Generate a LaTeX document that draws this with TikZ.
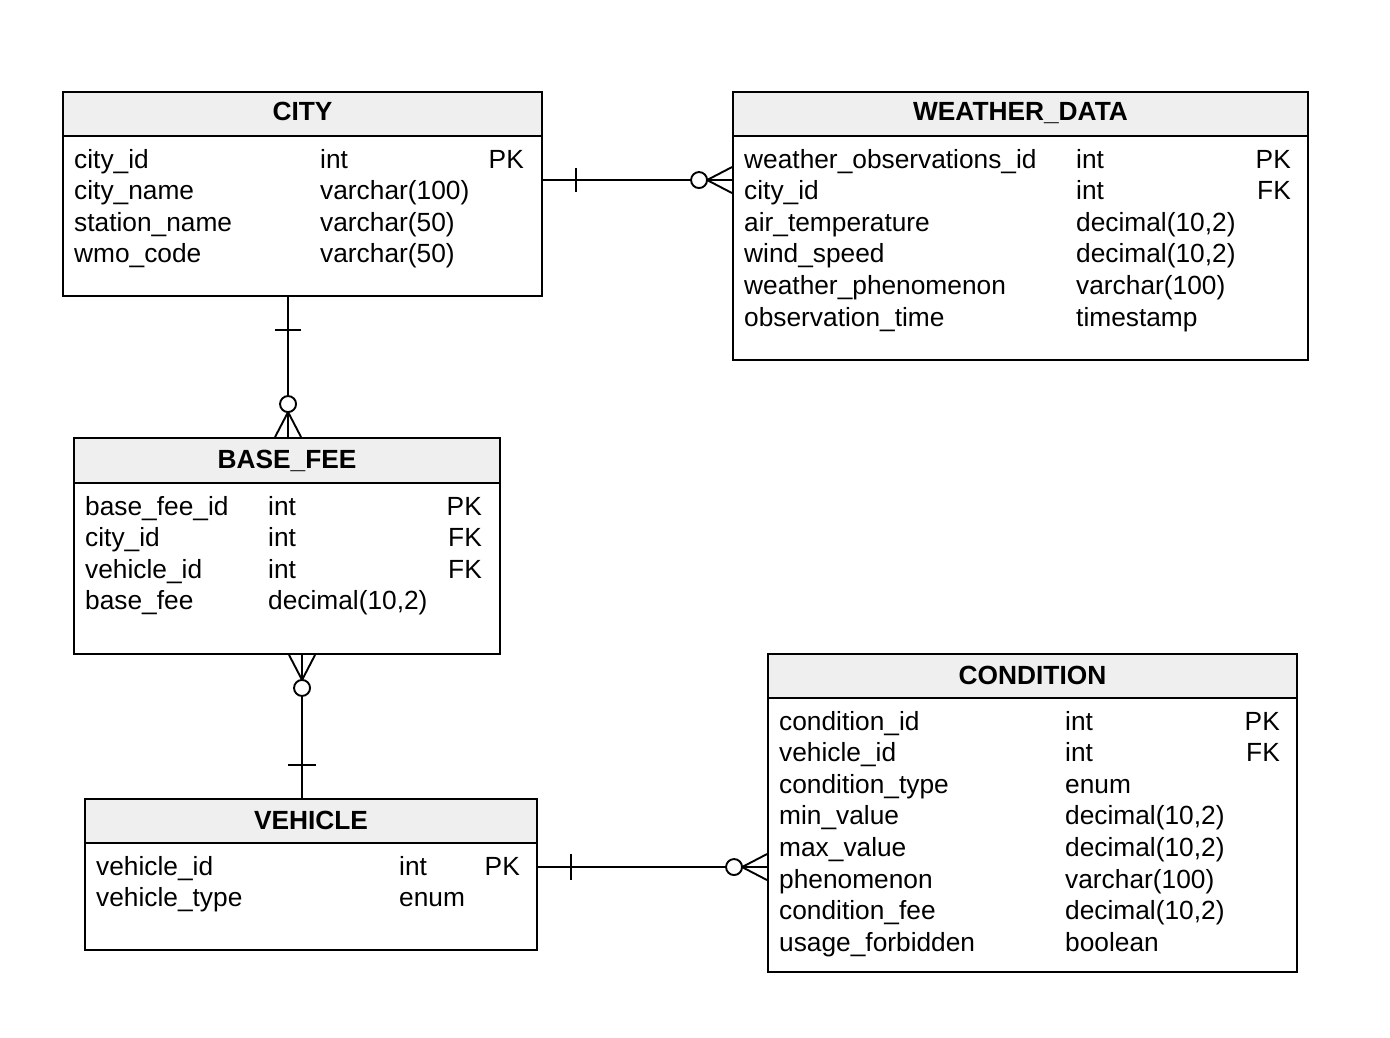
\documentclass[tikz,border=0pt]{standalone}
\usepackage{fontspec}
\setmainfont{Liberation Sans}
\usetikzlibrary{fit,calc}
\definecolor{hdrgray}{HTML}{EFEFEF}
\tikzset{
  tblbox/.style={draw, line width=1.9pt, inner sep=0pt, fill=white},
  hdrbox/.style={draw, line width=1.9pt, inner sep=0pt, fill=hdrgray},
  ttl/.style={anchor=base, inner sep=0pt, font=\fontsize{26.3}{30}\selectfont\bfseries},
  fld/.style={anchor=base west, inner sep=0pt, font=\fontsize{26.3}{30}\selectfont},
  keyc/.style={anchor=base east, inner sep=0pt, font=\fontsize{26.3}{30}\selectfont},
  rel/.style={line width=1.9pt},
}
\begin{document}
\begin{tikzpicture}[x=1pt,y=-1pt]
\useasboundingbox[fill=white] (0,0) rectangle (1390,1038);

% ---------- CITY ----------
\node[tblbox, fit={(63,92)(542,296)}] (city) {};
\node[hdrbox, fit={(63,92)(542,136)}] (cityh) {};
\node[ttl] (cityt) at (302.5,121) {CITY};
\node[fld] (c1n) at (74,168) {city\_id};
\node[fld] (c1t) at (320,168) {int};
\node[keyc] (c1k) at (524,168) {PK};
\node[fld] (c2n) at (74,199.6) {city\_name};
\node[fld] (c2t) at (320,199.6) {varchar(100)};
\node[fld] (c3n) at (74,231.2) {station\_name};
\node[fld] (c3t) at (320,231.2) {varchar(50)};
\node[fld] (c4n) at (74,262.8) {wmo\_code};
\node[fld] (c4t) at (320,262.8) {varchar(50)};

% ---------- WEATHER_DATA ----------
\node[tblbox, fit={(733,92)(1308,360)}] (wd) {};
\node[hdrbox, fit={(733,92)(1308,136)}] (wdh) {};
\node[ttl] (wdt) at (1020.5,121) {WEATHER\_DATA};
\node[fld] (w1n) at (744,168) {weather\_observations\_id};
\node[fld] (w1t) at (1076,168) {int};
\node[keyc] (w1k) at (1291,168) {PK};
\node[fld] (w2n) at (744,199.6) {city\_id};
\node[fld] (w2t) at (1076,199.6) {int};
\node[keyc] (w2k) at (1291,199.6) {FK};
\node[fld] (w3n) at (744,231.2) {air\_temperature};
\node[fld] (w3t) at (1076,231.2) {decimal(10,2)};
\node[fld] (w4n) at (744,262.8) {wind\_speed};
\node[fld] (w4t) at (1076,262.8) {decimal(10,2)};
\node[fld] (w5n) at (744,294.4) {weather\_phenomenon};
\node[fld] (w5t) at (1076,294.4) {varchar(100)};
\node[fld] (w6n) at (744,326) {observation\_time};
\node[fld] (w6t) at (1076,326) {timestamp};

% ---------- BASE_FEE ----------
\node[tblbox, fit={(74,438)(500,654)}] (bf) {};
\node[hdrbox, fit={(74,438)(500,483)}] (bfh) {};
\node[ttl] (bft) at (287,468) {BASE\_FEE};
\node[fld] (b1n) at (85,515) {base\_fee\_id};
\node[fld] (b1t) at (268,515) {int};
\node[keyc] (b1k) at (482,515) {PK};
\node[fld] (b2n) at (85,546.6) {city\_id};
\node[fld] (b2t) at (268,546.6) {int};
\node[keyc] (b2k) at (482,546.6) {FK};
\node[fld] (b3n) at (85,578.2) {vehicle\_id};
\node[fld] (b3t) at (268,578.2) {int};
\node[keyc] (b3k) at (482,578.2) {FK};
\node[fld] (b4n) at (85,609.8) {base\_fee};
\node[fld] (b4t) at (268,609.8) {decimal(10,2)};

% ---------- VEHICLE ----------
\node[tblbox, fit={(85,799)(537,950)}] (veh) {};
\node[hdrbox, fit={(85,799)(537,843)}] (vehh) {};
\node[ttl] (veht) at (311,829) {VEHICLE};
\node[fld] (v1n) at (96,875) {vehicle\_id};
\node[fld] (v1t) at (399,875) {int};
\node[keyc] (v1k) at (520,875) {PK};
\node[fld] (v2n) at (96,906.6) {vehicle\_type};
\node[fld] (v2t) at (399,906.6) {enum};

% ---------- CONDITION ----------
\node[tblbox, fit={(768,654)(1297,972)}] (cond) {};
\node[hdrbox, fit={(768,654)(1297,698)}] (condh) {};
\node[ttl] (condt) at (1032.5,684) {CONDITION};
\node[fld] (k1n) at (779,730) {condition\_id};
\node[fld] (k1t) at (1065,730) {int};
\node[keyc] (k1k) at (1280,730) {PK};
\node[fld] (k2n) at (779,761.6) {vehicle\_id};
\node[fld] (k2t) at (1065,761.6) {int};
\node[keyc] (k2k) at (1280,761.6) {FK};
\node[fld] (k3n) at (779,793.2) {condition\_type};
\node[fld] (k3t) at (1065,793.2) {enum};
\node[fld] (k4n) at (779,824.8) {min\_value};
\node[fld] (k4t) at (1065,824.8) {decimal(10,2)};
\node[fld] (k5n) at (779,856.4) {max\_value};
\node[fld] (k5t) at (1065,856.4) {decimal(10,2)};
\node[fld] (k6n) at (779,888) {phenomenon};
\node[fld] (k6t) at (1065,888) {varchar(100)};
\node[fld] (k7n) at (779,919.6) {condition\_fee};
\node[fld] (k7t) at (1065,919.6) {decimal(10,2)};
\node[fld] (k8n) at (779,951.2) {usage\_forbidden};
\node[fld] (k8t) at (1065,951.2) {boolean};

% ---------- relationships ----------
% CITY -- WEATHER_DATA (one to many), horizontal
\coordinate (a1) at ($(city.north east)+(0,89)$);
\coordinate (b1) at (a1 -| wd.west);
\draw[rel] (a1) -- (b1);
\draw[rel] ($(a1)+(33,-12)$) -- ($(a1)+(33,12)$);
\draw[rel] ($(b1)+(-25,0)$) -- ($(b1)+(0,-13)$);
\draw[rel] ($(b1)+(-25,0)$) -- ($(b1)+(0,13)$);
\draw[rel, fill=white] ($(b1)+(-33,0)$) circle (8pt);

% CITY -- BASE_FEE, vertical
\coordinate (a2) at ($(city.south west)+(226,0)$);
\coordinate (b2) at (a2 |- bf.north);
\draw[rel] (a2) -- (b2);
\draw[rel] ($(a2)+(-13,33)$) -- ($(a2)+(13,33)$);
\draw[rel] ($(b2)+(0,-25)$) -- ($(b2)+(-13,0)$);
\draw[rel] ($(b2)+(0,-25)$) -- ($(b2)+(13,0)$);
\draw[rel, fill=white] ($(b2)+(0,-33)$) circle (8pt);

% BASE_FEE -- VEHICLE, vertical
\coordinate (a3) at ($(bf.south west)+(229,0)$);
\coordinate (b3) at (a3 |- veh.north);
\draw[rel] (a3) -- (b3);
\draw[rel] ($(b3)+(-14,-33)$) -- ($(b3)+(14,-33)$);
\draw[rel] ($(a3)+(0,25)$) -- ($(a3)+(-13,0)$);
\draw[rel] ($(a3)+(0,25)$) -- ($(a3)+(13,0)$);
\draw[rel, fill=white] ($(a3)+(0,33)$) circle (8pt);

% VEHICLE -- CONDITION, horizontal
\coordinate (a4) at ($(veh.north east)+(0,69)$);
\coordinate (b4) at (a4 -| cond.west);
\draw[rel] (a4) -- (b4);
\draw[rel] ($(a4)+(33,-13)$) -- ($(a4)+(33,13)$);
\draw[rel] ($(b4)+(-25,0)$) -- ($(b4)+(0,-13)$);
\draw[rel] ($(b4)+(-25,0)$) -- ($(b4)+(0,13)$);
\draw[rel, fill=white] ($(b4)+(-33,0)$) circle (8pt);
\end{tikzpicture}
\end{document}
